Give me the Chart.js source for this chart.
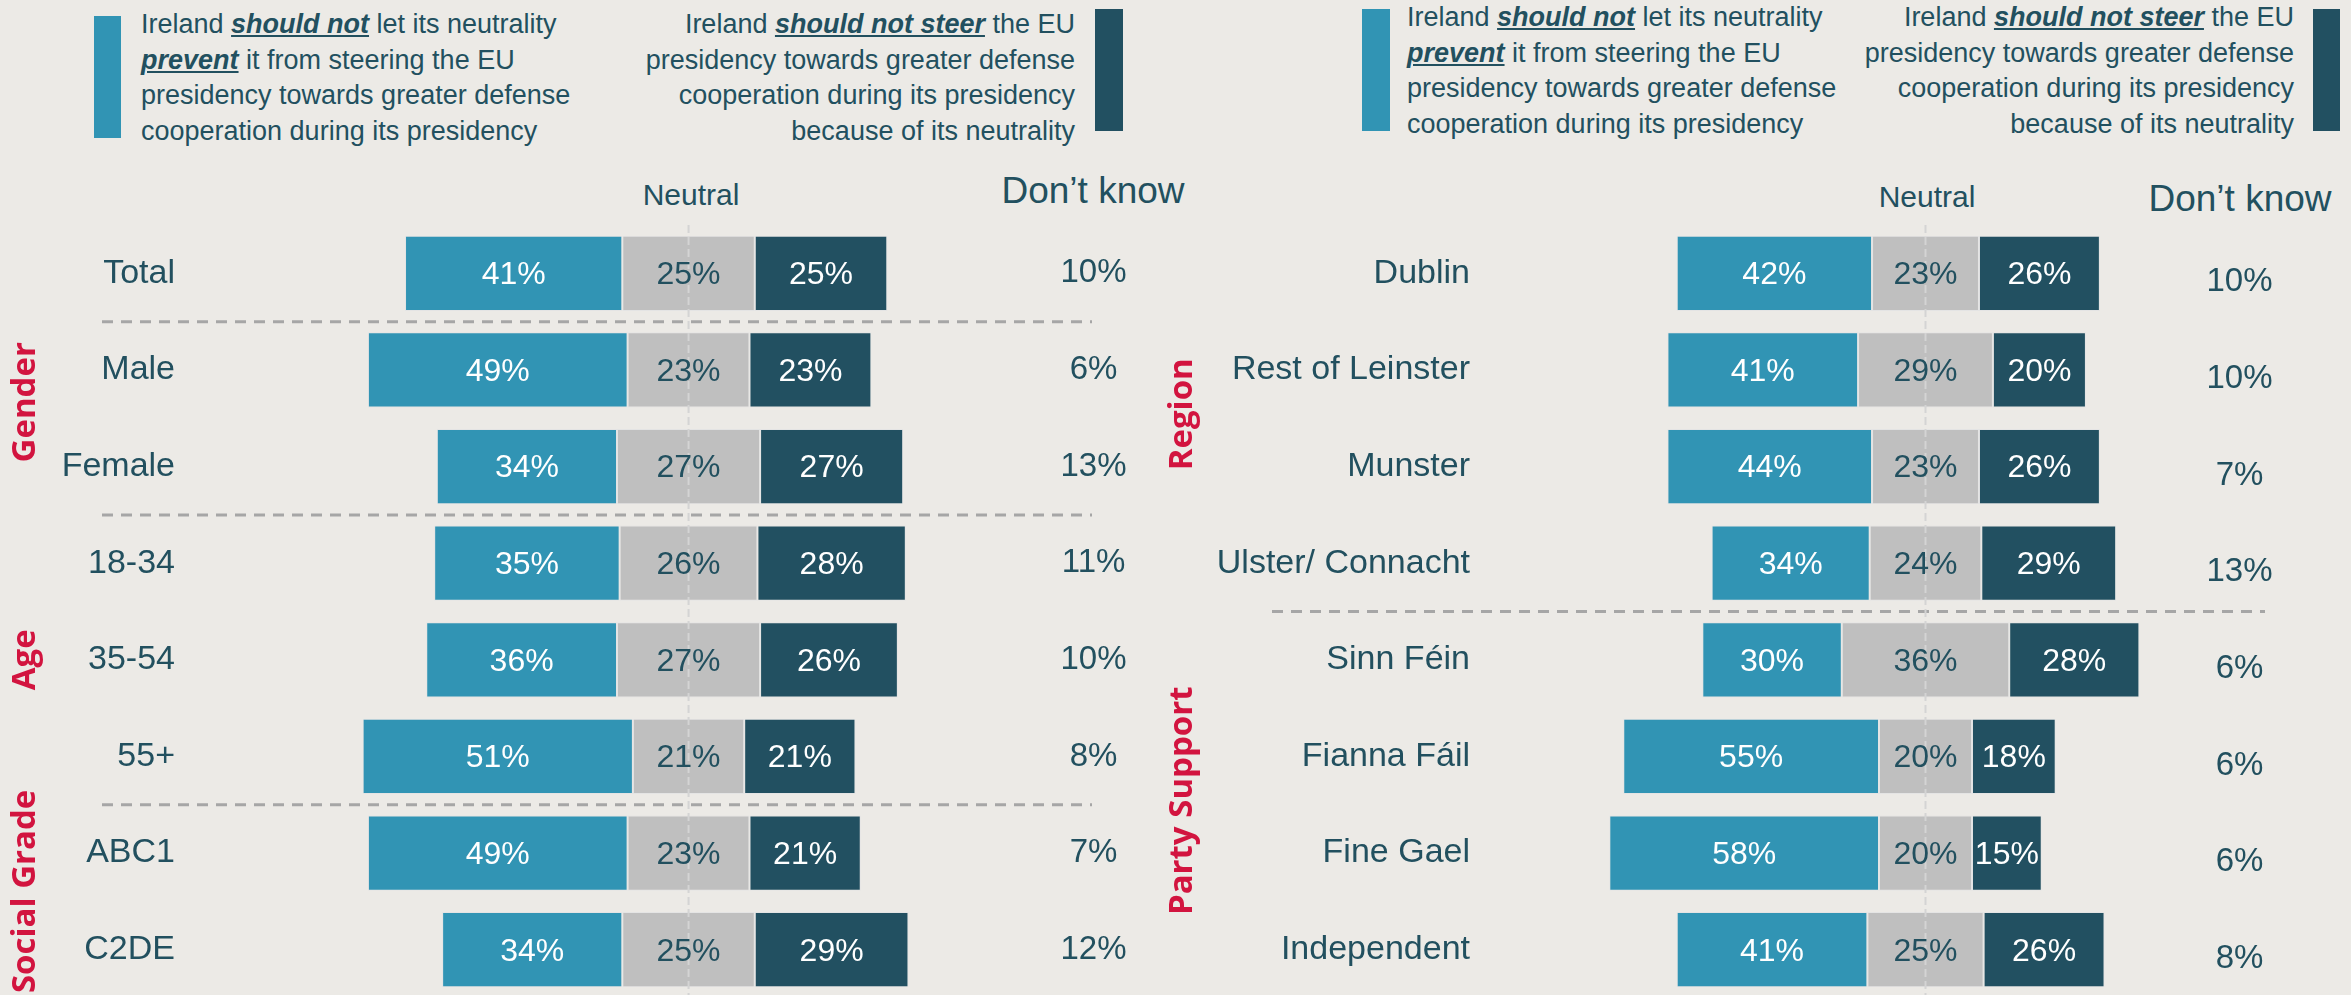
<!DOCTYPE html>
<html>
<head>
<meta charset="utf-8">
<script src="https://cdn.jsdelivr.net/npm/chart.js@4.4.1/dist/chart.umd.min.js"></script>
<style>
  html, body { margin: 0; padding: 0; background: #ECEAE6; overflow: hidden; }
  body { width: 2351px; height: 995px; position: relative; font-family: "Liberation Sans", Arial, sans-serif; color: #22505F; }
  .swatch { position: absolute; }
  .leg { position: absolute; font-size: 27px; line-height: 35.6px; white-space: nowrap; }
  .leg b { font-style: italic; text-decoration: underline; }
  .hdr { position: absolute; transform: translate(-50%, -50%); white-space: nowrap; }
  canvas { position: absolute; top: 225px; }
</style>
</head>
<body>

<!-- legend left panel -->
<div class="swatch" style="left:94px;top:16px;width:27px;height:122px;background:#3194B4"></div>
<div class="leg" style="left:141px;top:7px">Ireland <b>should not</b> let its neutrality<br><b>prevent</b> it from steering the EU<br>presidency towards greater defense<br>cooperation during its presidency</div>
<div class="swatch" style="left:1095px;top:9px;width:28px;height:122px;background:#225061"></div>
<div class="leg" style="right:1276px;top:7px;text-align:right">Ireland <b>should not steer</b> the EU<br>presidency towards greater defense<br>cooperation during its presidency<br>because of its neutrality</div>

<!-- legend right panel -->
<div class="swatch" style="left:1362px;top:9px;width:28px;height:122px;background:#3194B4"></div>
<div class="leg" style="left:1407px;top:0px">Ireland <b>should not</b> let its neutrality<br><b>prevent</b> it from steering the EU<br>presidency towards greater defense<br>cooperation during its presidency</div>
<div class="swatch" style="left:2313px;top:9px;width:27px;height:122px;background:#225061"></div>
<div class="leg" style="right:57px;top:0px;text-align:right">Ireland <b>should not steer</b> the EU<br>presidency towards greater defense<br>cooperation during its presidency<br>because of its neutrality</div>

<div class="hdr" style="left:691px;top:195px;font-size:30px">Neutral</div>
<div class="hdr" style="left:1093px;top:191px;font-size:37px">Don’t know</div>
<div class="hdr" style="left:1927px;top:197px;font-size:30px">Neutral</div>
<div class="hdr" style="left:2240px;top:199px;font-size:37px">Don’t know</div>

<canvas id="leftChart" width="1175" height="773" style="left:0px"></canvas>
<canvas id="rightChart" width="1211" height="773" style="left:1140px"></canvas>

<script>
// --- datos panel izquierdo ---
const leftCategories = ['Total', 'Male', 'Female', '18-34', '35-54', '55+', 'ABC1', 'C2DE'];
const leftShouldNot = [41, 49, 34, 35, 36, 51, 49, 34];
const leftNeutral = [25, 23, 27, 26, 27, 21, 23, 25];
const leftShouldNotSteer = [25, 23, 27, 28, 26, 21, 21, 29];
const leftDontKnow = [10, 6, 13, 11, 10, 8, 7, 12];
const leftGroupNames = ['Gender', 'Age', 'Social Grade'];
const leftGroupFirst = [1, 3, 6];
const leftGroupLast = [2, 5, 7];

// --- datos panel derecho ---
const rightCategories = ['Dublin', 'Rest of Leinster', 'Munster', 'Ulster/ Connacht', 'Sinn Féin', 'Fianna Fáil', 'Fine Gael', 'Independent'];
const rightShouldNot = [42, 41, 44, 34, 30, 55, 58, 41];
const rightNeutral = [23, 29, 23, 24, 36, 20, 20, 25];
const rightShouldNotSteer = [26, 20, 26, 29, 28, 18, 15, 26];
const rightDontKnow = [10, 10, 7, 13, 6, 6, 6, 8];
const rightGroupNames = ['Region', 'Party Support'];
const rightGroupFirst = [0, 4];
const rightGroupLast = [3, 7];

const BLUE = '#3194B4';
const GREY = '#BFBFBF';
const DARK = '#225061';
const TEXT = '#22505F';
const RED = '#D2143F';

// neutral centrado en 0, azul a la izquierda, oscuro a la derecha
function armarDatasets(azul, neutro, oscuro) {
  return [
    { data: azul.map((v, i) => [-neutro[i] / 2 - v, -neutro[i] / 2]), pct: azul, backgroundColor: BLUE, textColor: '#FFFFFF' },
    { data: neutro.map(v => [-v / 2, v / 2]), pct: neutro, backgroundColor: GREY, textColor: TEXT },
    { data: oscuro.map((v, i) => [neutro[i] / 2, neutro[i] / 2 + v]), pct: oscuro, backgroundColor: DARK, textColor: '#FFFFFF' }
  ];
}

const panelPlugin = {
  id: 'panel',
  afterDatasetsDraw(chart, args, opts) {
    const { ctx, chartArea, scales } = chart;
    const yScale = scales.y;
    const x0 = scales.x.getPixelForValue(0);
    ctx.save();

    // separadores entre grupos
    ctx.strokeStyle = '#A6A6A6';
    ctx.lineWidth = 3;
    ctx.setLineDash([11, 8]);
    opts.groupFirst.forEach(i => {
      if (i === 0) return;
      const y = (yScale.getPixelForValue(i - 1) + yScale.getPixelForValue(i)) / 2;
      ctx.beginPath();
      ctx.moveTo(opts.sepFrom, y);
      ctx.lineTo(opts.sepTo, y);
      ctx.stroke();
    });

    // linea central
    ctx.strokeStyle = '#D4D4D4';
    ctx.lineWidth = 2;
    ctx.setLineDash([8, 4]);
    ctx.beginPath();
    ctx.moveTo(x0, chartArea.top);
    ctx.lineTo(x0, chartArea.bottom);
    ctx.stroke();
    ctx.setLineDash([]);

    // etiquetas de porcentaje
    ctx.font = '32px "Liberation Sans", Arial, sans-serif';
    ctx.textAlign = 'center';
    ctx.textBaseline = 'middle';
    chart.data.datasets.forEach((ds, di) => {
      ctx.fillStyle = ds.textColor;
      chart.getDatasetMeta(di).data.forEach((el, i) => {
        ctx.fillText(ds.pct[i] + '%', (el.x + el.base) / 2, el.y + 2);
      });
    });

    // nombres de grupo en vertical
    ctx.font = 'bold 33px "Open Sans", sans-serif';
    ctx.fillStyle = RED;
    opts.groupNames.forEach((name, g) => {
      const y = (yScale.getPixelForValue(opts.groupFirst[g]) + yScale.getPixelForValue(opts.groupLast[g])) / 2;
      ctx.save();
      ctx.translate(opts.groupX, y + (opts.groupShift[g] || 0));
      ctx.rotate(-Math.PI / 2);
      ctx.fillText(name, 0, 0);
      ctx.restore();
    });
    ctx.restore();
  }
};

// ancho fijo del eje y sin relleno vertical (para que las filas ocupen todo el alto)
function fijarEje(ancho) {
  return function (s) {
    s.width = ancho;
    s.paddingTop = 0;
    s.paddingBottom = 0;
  };
}

function crearPanel(id, cfg) {
  return new Chart(document.getElementById(id), {
    type: 'bar',
    data: {
      labels: cfg.categories,
      datasets: armarDatasets(cfg.azul, cfg.neutro, cfg.oscuro)
    },
    options: {
      responsive: false,
      animation: false,
      indexAxis: 'y',
      layout: { padding: 0 },
      datasets: {
        bar: {
          grouped: false,
          categoryPercentage: 1,
          barPercentage: 0.78,
          borderWidth: 1,
          borderColor: '#E4E4E4',
          borderSkipped: false
        }
      },
      plugins: {
        legend: { display: false },
        tooltip: { enabled: false },
        panel: cfg.panel
      },
      scales: {
        x: { type: 'linear', min: cfg.xMin, max: cfg.xMax, display: false },
        y: {
          type: 'category',
          position: 'left',
          grid: { display: false, drawTicks: false },
          border: { display: false },
          ticks: { autoSkip: false, padding: cfg.labelPad, color: TEXT, font: { family: 'Liberation Sans', size: 34 } },
          afterFit: fijarEje(cfg.leftWidth)
        },
        y2: {
          type: 'category',
          position: 'right',
          labels: cfg.dontKnow.map(v => v + '%'),
          offset: true,
          grid: { display: false, drawTicks: false },
          border: { display: false },
          ticks: { autoSkip: false, crossAlign: 'center', padding: cfg.dkPad, labelOffset: cfg.dkOffset, color: TEXT, font: { family: 'Liberation Sans', size: 33 } },
          afterFit: fijarEje(cfg.rightWidth)
        }
      }
    },
    plugins: [panelPlugin]
  });
}

crearPanel('leftChart', {
  categories: leftCategories,
  azul: leftShouldNot, neutro: leftNeutral, oscuro: leftShouldNotSteer,
  dontKnow: leftDontKnow,
  xMin: -92, xMax: 70,
  leftWidth: 201, rightWidth: 115.5, labelPad: 26, dkPad: 1, dkOffset: 0,
  panel: { groupNames: leftGroupNames, groupFirst: leftGroupFirst, groupLast: leftGroupLast, groupShift: [-16, 0, -10], groupX: 26, sepFrom: 102, sepTo: 1092 }
});

crearPanel('rightChart', {
  categories: rightCategories,
  azul: rightShouldNot, neutro: rightNeutral, oscuro: rightShouldNotSteer,
  dontKnow: rightDontKnow,
  xMin: -94, xMax: 60,
  leftWidth: 348.4, rightWidth: 146.5, labelPad: 18.4, dkPad: 2, dkOffset: 9,
  panel: { groupNames: rightGroupNames, groupFirst: rightGroupFirst, groupLast: rightGroupLast, groupShift: [-4, -4], groupX: 43, sepFrom: 132, sepTo: 1125 }
});
</script>
</body>
</html>
